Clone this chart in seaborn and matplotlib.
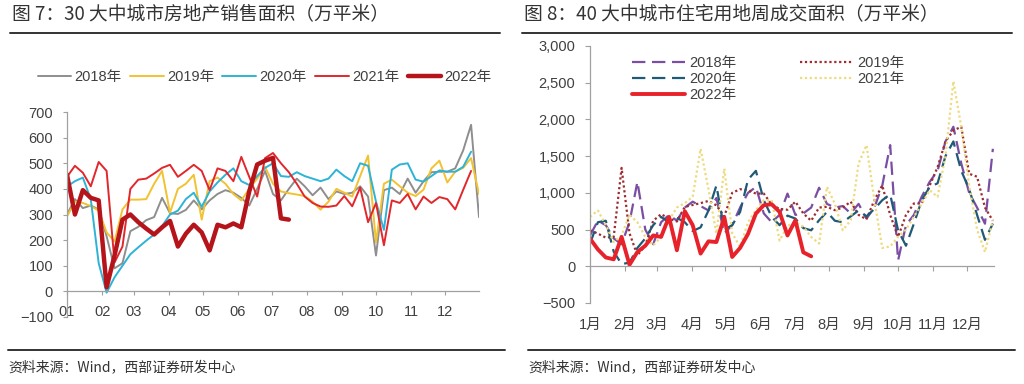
import numpy as np
import pandas as pd
import matplotlib
matplotlib.use("Agg")
import matplotlib.pyplot as plt
import matplotlib.ticker as mticker
import seaborn as sns

sns.set_style("white")
plt.rcParams["font.family"] = ["Liberation Sans", "Noto Sans CJK SC", "DejaVu Sans"]
cjk = ["Noto Sans CJK SC", "DejaVu Sans"]

# %%
# weekly sales area of 30 cities (万平米), one value per week from Jan 1
sales_2018 = [300, 360, 325, 335, 320, 215, 90, 110, 235, 252, 278, 290, 365, 305, 302, 318, 355, 320,
              355, 380, 395, 385, 365, 335, 400, 470, 380, 355, 400, 440, 410, 375, 405, 360, 390, 380,
              385, 410, 370, 140, 395, 405, 380, 440, 385, 430, 465, 467, 467, 480, 550, 650, 290]
sales_2019 = [292, 350, 345, 333, 315, 230, 195, 320, 358, 358, 360, 420, 470, 307, 400, 420, 455, 280,
              430, 444, 420, 380, 355, 400, 440, 486, 420, 390, 383, 378, 372, 350, 319, 350, 400, 385,
              370, 450, 530, 191, 420, 436, 410, 385, 372, 397, 480, 510, 425, 467, 482, 520, 380]
sales_2020 = [409, 430, 444, 360, 110, -5, 55, 100, 145, 172, 198, 222, 255, 300, 315, 360, 385, 330,
              390, 425, 455, 480, 430, 415, 450, 482, 500, 450, 447, 465, 450, 440, 430, 440, 475, 450,
              430, 500, 490, 350, 240, 475, 495, 500, 436, 428, 450, 472, 467, 467, 486, 545]
sales_2021 = [447, 490, 463, 410, 505, 470, 113, 175, 400, 436, 440, 460, 482, 494, 447, 470, 494, 470,
              395, 480, 470, 430, 525, 447, 370, 520, 540, 500, 465, 420, 370, 345, 331, 330, 335, 372,
              332, 405, 270, 345, 180, 355, 345, 380, 320, 370, 345, 368, 360, 320, 396, 470]
sales_2022 = [455, 300, 395, 365, 355, 16, 140, 280, 300, 270, 245, 222, 250, 275, 175, 225, 260, 230,
              160, 260, 250, 265, 250, 390, 495, 510, 521, 285, 280]

# weekly residential land transaction area of 40 cities (万平米)
land_2018 = [420, 620, 560, 380, 300, 600, 1150, 500, 300, 600, 700, 620, 800, 880, 820, 760, 930, 450,
             560, 800, 1000, 1080, 720, 600, 700, 990, 700, 720, 800, 1070, 850, 800, 820, 720, 850, 650,
             800, 1100, 1650, 80, 560, 700, 950, 1150, 1300, 1700, 1900, 1400, 1000, 800, 580, 1600]
land_2019 = [490, 445, 390, 400, 1340, 450, 150, 280, 620, 710, 650, 610, 809, 835, 860, 890, 830, 680,
             1000, 1050, 1035, 990, 990, 840, 780, 770, 880, 720, 620, 800, 810, 764, 800, 880, 700, 640,
             900, 1100, 700, 400, 700, 855, 855, 1100, 1350, 1700, 1850, 1900, 1260, 1220, 800, 620]
land_2020 = [309, 600, 620, 200, 30, 50, 250, 380, 560, 673, 600, 660, 600, 480, 530, 760, 1100, 500,
             560, 740, 1180, 1300, 900, 673, 560, 690, 650, 520, 490, 627, 740, 620, 600, 680, 760, 680,
             780, 900, 980, 490, 280, 580, 900, 1080, 1130, 1500, 1700, 1300, 1050, 700, 360, 582]
land_2021 = [673, 760, 560, 330, 420, 700, 600, 400, 286, 400, 627, 800, 860, 945, 1600, 1050, 445, 1330,
             450, 264, 600, 764, 900, 900, 350, 550, 600, 540, 400, 309, 1082, 850, 491, 627, 1400, 1650,
             900, 250, 270, 400, 500, 673, 850, 1036, 945, 1500, 2520, 1900, 1100, 500, 195, 627]
land_2022 = [377, 230, 120, 95, 400, 20, 195, 280, 420, 400, 673, 218, 750, 560, 173, 340, 330, 670,
             127, 250, 440, 718, 832, 845, 740, 420, 627, 190, 136]

month_start = [0, 31, 59, 90, 120, 151, 181, 212, 243, 273, 304, 334]
left_months = ["01", "02", "03", "04", "05", "06", "07", "08", "09", "10", "11", "12"]
right_months = [f"{m}月" for m in range(1, 13)]
years = ["2018年", "2019年", "2020年", "2021年", "2022年"]

title_left = "图 7：30 大中城市房地产销售面积（万平米）"
title_right = "图 8：40 大中城市住宅用地周成交面积（万平米）"
source = "资料来源：Wind，西部证券研发中心"

# %%
W, H = 1024, 384
fig = plt.figure(figsize=(W / 100, H / 100), dpi=100)
ax1 = fig.add_axes([67 / W, 1 - 317 / H, 412 / W, 205 / H])
ax2 = fig.add_axes([590 / W, 1 - 303 / H, 404 / W, 257 / H])

axis_grey = "#A0A0A0"
text_grey = "#404040"

def weeks(vals):
    return 7 * np.arange(len(vals))

# left panel
left_styles = [
    (sales_2018, "#8E8E8E", 1.4),
    (sales_2019, "#F2C230", 1.4),
    (sales_2020, "#2DB3D7", 1.4),
    (sales_2021, "#E2272C", 1.4),
    (sales_2022, "#B5141A", 3.2),
]
for name, (vals, color, lw) in zip(years, left_styles):
    sns.lineplot(x=weeks(vals), y=vals, ax=ax1, color=color, lw=lw, label=name,
                 errorbar=None, solid_joinstyle="round")

ax1.set_xlim(0, 364)
ax1.set_ylim(-100, 700)
ax1.set_yticks(range(-100, 701, 100))
ax1.set_xticks(month_start, left_months)
for s in ["top", "right"]:
    ax1.spines[s].set_visible(False)
ax1.spines["bottom"].set_position(("data", 0))
for s in ["bottom", "left"]:
    ax1.spines[s].set_color(axis_grey)
    ax1.spines[s].set_linewidth(0.9)
ax1.tick_params(axis="x", direction="out", length=3, width=0.8, color=axis_grey, pad=6.5,
                labelsize=10.5, labelcolor=text_grey, bottom=True)
ax1.tick_params(axis="y", direction="out", length=3, width=0.8, color=axis_grey, pad=7,
                labelsize=10.5, labelcolor=text_grey, left=True)
ax1.set_xlabel("")
ax1.set_ylabel("")
ax1.legend(loc="center", bbox_to_anchor=(0.48, 1.17), ncol=5, frameon=False,
           fontsize=10.5, handlelength=2.3, handletextpad=0.25, columnspacing=0.55,
           labelcolor=text_grey)

# right panel
right_styles = [
    (land_2018, "#7A4FA3", 1.6, (0, (6, 3))),
    (land_2019, "#9E2B2E", 1.6, (0, (1, 1.2))),
    (land_2020, "#1F5A78", 1.6, (0, (6, 3))),
    (land_2021, "#EDDB7E", 1.6, (0, (1, 1.2))),
    (land_2022, "#E8222A", 2.8, "-"),
]
for name, (vals, color, lw, ls) in zip(years, right_styles):
    sns.lineplot(x=weeks(vals), y=vals, ax=ax2, color=color, lw=lw, linestyle=ls, label=name,
                 errorbar=None, solid_joinstyle="round")

ax2.set_xlim(0, 358)
ax2.set_ylim(-500, 3000)
ax2.set_yticks(range(-500, 3001, 500))
ax2.yaxis.set_major_formatter(mticker.StrMethodFormatter("{x:,.0f}"))
ax2.set_xticks(month_start)
for s in ["top", "right"]:
    ax2.spines[s].set_visible(False)
ax2.spines["bottom"].set_position(("data", 0))
for s in ["bottom", "left"]:
    ax2.spines[s].set_color(axis_grey)
    ax2.spines[s].set_linewidth(0.9)
ax2.tick_params(axis="x", direction="out", length=3.5, width=0.8, color=axis_grey,
                labelbottom=False, bottom=True)
ax2.tick_params(axis="y", direction="out", length=3.5, width=0.8, color=axis_grey, pad=7,
                labelsize=10.5, labelcolor=text_grey, left=True)
ax2.set_xlabel("")
ax2.set_ylabel("")
sec = ax2.secondary_xaxis("bottom")
sec.set_xticks(month_start, right_months)
sec.tick_params(length=0, pad=11, labelsize=10.5, labelcolor=text_grey)
sec.spines["bottom"].set_visible(False)

handles, labels = ax2.get_legend_handles_labels()
order = [0, 2, 4, 1, 3]
ax2.legend([handles[i] for i in order], [labels[i] for i in order],
           loc="upper left", bbox_to_anchor=(0.104, 0.962), borderaxespad=0, borderpad=0,
           ncol=2, frameon=False, fontsize=10.5, handlelength=3.6, handletextpad=0.3,
           columnspacing=4.4, labelspacing=0.15, labelcolor=text_grey)

# titles, rules and source notes
for x0, x1, title in [(10, 500, title_left), (522, 1012, title_right)]:
    fig.text((x0 + 2) / W, 1 - 15 / H, title, fontsize=13.5, va="center", ha="left",
             family=cjk, color="#333333")
    fig.add_artist(plt.Line2D([x0 / W, x1 / W], [1 - 32.5 / H] * 2, color="#333333", lw=1.4))
for x0, x1 in [(8, 505), (528, 1015)]:
    fig.add_artist(plt.Line2D([x0 / W, x1 / W], [1 - 350 / H] * 2, color="#333333", lw=1.4))
    fig.text(x0 / W, 1 - 367 / H, source, fontsize=10, va="center", ha="left",
             family=cjk, color="#333333")

fig.savefig("out.png", dpi=100)
